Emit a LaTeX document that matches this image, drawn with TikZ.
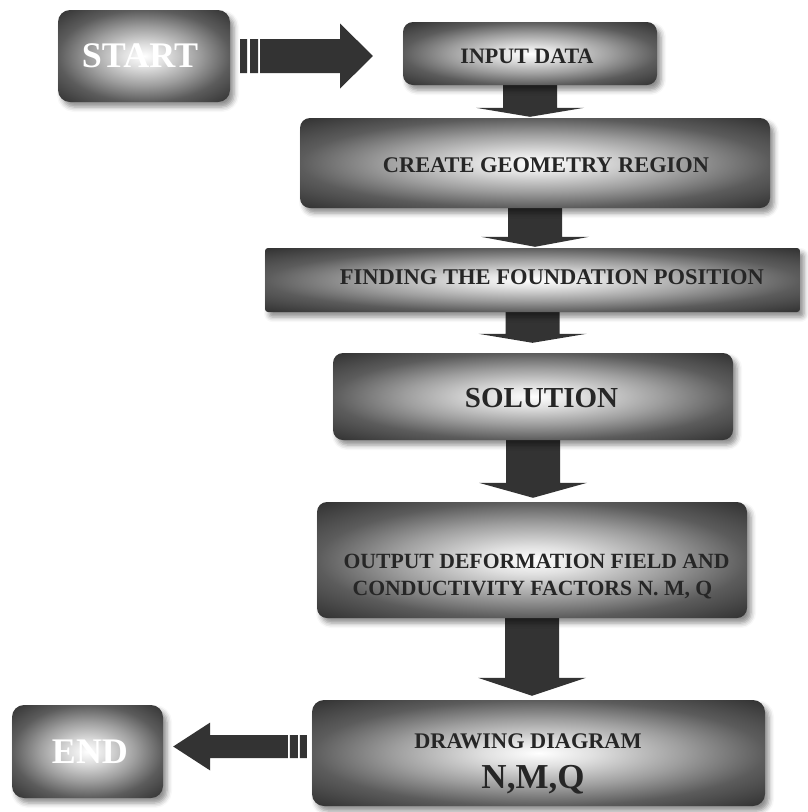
\documentclass[tikz,border=0pt]{standalone}
\usepackage{fontspec}
\setmainfont{Liberation Serif}
\usetikzlibrary{calc,shadows.blur}
\pgfdeclarelayer{bg}
\pgfsetlayers{bg,main}
\pgfdeclareradialshading{boxglow}{\pgfpoint{0bp}{0bp}}{color(0bp)=(white); color(6bp)=(black!12); color(16bp)=(black!38); color(25bp)=(black!64); color(35bp)=(black!80); color(50bp)=(black!82)}
\begin{document}
\begin{tikzpicture}[x=1pt,y=-1pt,
  box/.style={rectangle, rounded corners=#1, shading=boxglow, inner sep=0pt,
    blur shadow={shadow xshift=4pt, shadow yshift=-5pt, shadow blur radius=5pt, shadow opacity=45}},
  box/.default=11pt,
  lbl/.style={font=\bfseries\fontsize{22}{28}\selectfont, text=black!85, inner sep=0pt, anchor=base},
  biglbl/.style={font=\bfseries\fontsize{36}{40}\selectfont, text=white, inner sep=0pt, anchor=base},
  arrowfill/.style={fill=black!80},
]
\useasboundingbox (0,0) rectangle (808,812);

% boxes
\node[box=12pt, minimum width=172pt, minimum height=92pt] (start) at (144,56) {};
\node[box=10pt, minimum width=254pt, minimum height=63pt] (input) at (530,53.5) {};
\node[box=10pt, minimum width=470pt, minimum height=90pt] (create) at (535,163) {};
\node[box=3pt, minimum width=535pt, minimum height=64pt] (finding) at (532.5,280) {};
\node[box=10pt, minimum width=400pt, minimum height=87pt] (solution) at (533,396.5) {};
\node[box=10pt, minimum width=430pt, minimum height=116pt] (output) at (532,560) {};
\node[box=12pt, minimum width=453pt, minimum height=106pt] (drawing) at (538.5,753) {};
\node[box=12pt, minimum width=151pt, minimum height=93pt] (end) at (87.5,751.5) {};

% texts
\node[biglbl] (startT) at (140,67) {START};
\node[lbl] (inputT) at (527,63) {INPUT DATA};
\node[lbl, font=\bfseries\fontsize{22.4}{28}\selectfont] (createT) at (546,172) {CREATE GEOMETRY REGION};
\node[lbl, font=\bfseries\fontsize{22.5}{28}\selectfont] (findingT) at (552,284) {FINDING THE FOUNDATION POSITION};
\node[lbl, font=\bfseries\fontsize{29}{32}\selectfont] (solutionT) at (541.5,407) {SOLUTION};
\node[lbl, font=\bfseries\fontsize{21.7}{28}\selectfont] (outputT1) at (536.5,568) {OUTPUT DEFORMATION FIELD AND};
\node[lbl, font=\bfseries\fontsize{21.7}{28}\selectfont] (outputT2) at (532.5,595) {CONDUCTIVITY FACTORS N. M, Q};
\node[lbl, font=\bfseries\fontsize{22.3}{28}\selectfont] (drawingT1) at (528,748) {DRAWING DIAGRAM};
\node[lbl, font=\bfseries\fontsize{35}{40}\selectfont] (drawingT2) at (533,788) {N,M,Q};
\node[biglbl] (endT) at (90,763) {END};

\newcommand\dnarrow[4]{%
  \fill[arrowfill] let \p1=(#1.south), \p2=(#2.north) in
    (\x1-27pt,\y1) -- (\x1+27pt,\y1) -- (\x1+27pt,\y2+#4pt+#3pt) -- (\x1+54pt,\y2+#4pt+#3pt)
    -- (\x1,\y2+#4pt) -- (\x1-54pt,\y2+#4pt+#3pt) -- (\x1-27pt,\y2+#4pt+#3pt) -- cycle;}

\begin{pgfonlayer}{bg}
\dnarrow{input}{create}{9}{1}
\dnarrow{create}{finding}{10}{1}
\dnarrow{finding}{solution}{9}{10}
\dnarrow{solution}{output}{15}{4}
\dnarrow{output}{drawing}{18}{4}
\end{pgfonlayer}

% START -> INPUT DATA
\fill[arrowfill] let \p1=(start.east), \p2=(input.west) in
  (\x1+10pt,\y1+17pt) rectangle (\x1+17pt,\y1-17pt)
  (\x1+20pt,\y1+17pt) rectangle (\x1+28pt,\y1-17pt)
  (\x1+30pt,\y1+17pt) -- (\x1+110pt,\y1+17pt) -- (\x1+110pt,\y1+32.5pt) -- (\x2-30pt,\y1)
  -- (\x1+110pt,\y1-32.5pt) -- (\x1+110pt,\y1-17pt) -- (\x1+30pt,\y1-17pt) -- cycle;

% DRAWING -> END
\fill[arrowfill] let \p1=(drawing.west), \p2=(end.east), \n1={\y2+5pt} in
  (\x1-5pt,\n1+11.5pt) rectangle (\x1-12pt,\n1-11.5pt)
  (\x1-14pt,\n1+11.5pt) rectangle (\x1-22pt,\n1-11.5pt)
  (\x1-24pt,\n1+11.5pt) -- (\x2+47pt,\n1+11.5pt) -- (\x2+47pt,\n1+24pt) -- (\x2+10pt,\n1)
  -- (\x2+47pt,\n1-24pt) -- (\x2+47pt,\n1-11.5pt) -- (\x1-24pt,\n1-11.5pt) -- cycle;
\end{tikzpicture}
\end{document}
